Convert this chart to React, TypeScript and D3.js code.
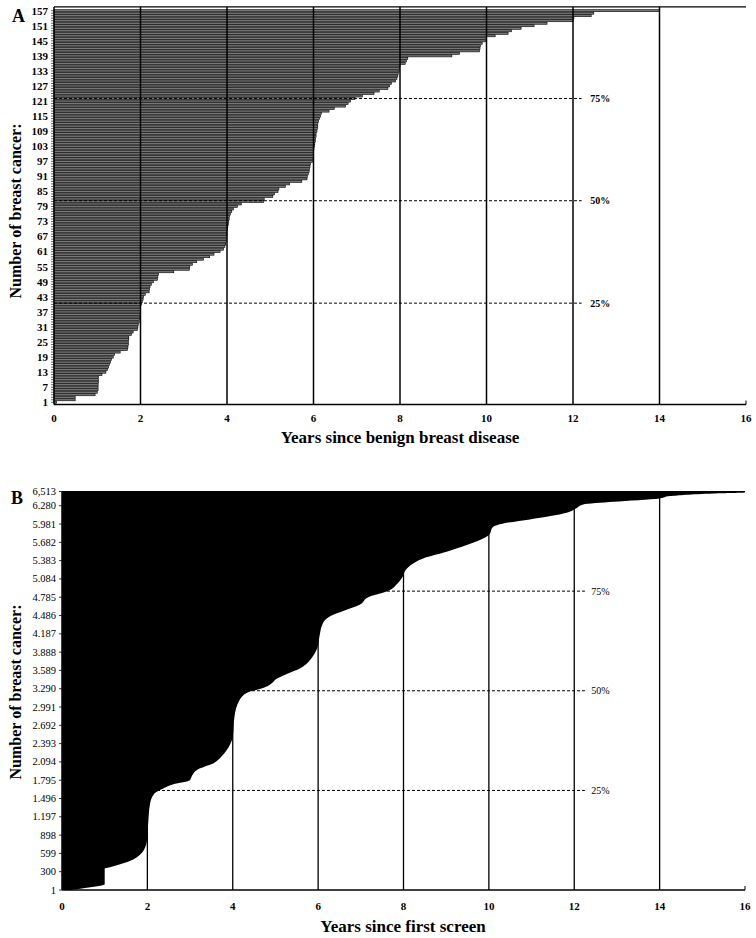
import React, { useEffect, useRef } from 'react';
import * as d3 from 'd3';

// panel A: years since benign disease, one bar per cancer (sorted)
const yearsA = [
  0.06, 0.49, 0.49, 0.95, 1.0, 1.02, 1.02, 1.02, 1.03, 1.03,
  1.03, 1.11, 1.2, 1.24, 1.26, 1.28, 1.31, 1.33, 1.37, 1.4,
  1.53, 1.7, 1.71, 1.72, 1.72, 1.73, 1.73, 1.79, 1.83, 1.93,
  1.94, 1.95, 1.97, 1.98, 1.99, 1.99, 2.0, 2.0, 2.0, 2.02,
  2.04, 2.06, 2.07, 2.11, 2.2, 2.21, 2.22, 2.25, 2.3, 2.39,
  2.4, 2.42, 2.77, 3.13, 3.14, 3.2, 3.3, 3.46, 3.6, 3.7,
  3.84, 3.92, 3.95, 3.97, 3.98, 3.99, 3.99, 4.0, 4.0, 4.01,
  4.02, 4.03, 4.04, 4.05, 4.06, 4.08, 4.11, 4.15, 4.24, 4.33,
  4.85, 4.86, 5.06, 5.1, 5.18, 5.2, 5.35, 5.45, 5.73, 5.85,
  5.86, 5.88, 5.9, 5.91, 5.92, 5.93, 5.98, 5.99, 6.0, 6.0,
  6.0, 6.01, 6.02, 6.03, 6.04, 6.05, 6.06, 6.06, 6.08, 6.09,
  6.1, 6.1, 6.12, 6.14, 6.16, 6.18, 6.36, 6.48, 6.74, 6.8,
  6.86, 6.96, 7.13, 7.4, 7.52, 7.72, 7.76, 7.8, 7.9, 7.93,
  7.95, 7.96, 7.98, 7.99, 8.0, 8.12, 8.15, 8.18, 9.2, 9.38,
  9.84, 9.85, 9.86, 9.9, 9.98, 10.0, 10.2, 10.5, 10.58, 10.8,
  11.1, 11.4, 12.0, 12.02, 12.42, 12.48, 14.0,
];
const quartileRowsA = [40.5, 81.3, 122];

// panel B: outline of the 6,513 sorted bars (count, years)
const countsB = [
  1, 30, 95, 350, 372, 430, 500, 572, 700, 800,
  1100, 1400, 1580, 1660, 1740, 1775, 1800, 1860, 1985, 2070,
  2178, 2369, 2505, 2832, 3105, 3240, 3285, 3322, 3460, 3650,
  3812, 3975, 4139, 4357, 4466, 4575, 4657, 4793, 4874, 5011,
  5120, 5230, 5300, 5419, 5528, 5637, 5719, 5801, 5936, 5991,
  6057, 6165, 6236, 6302, 6345, 6400, 6438, 6482, 6498, 6513,
];
const yearsB = [
  0.2, 0.5, 1.0, 1.0, 1.12, 1.4, 1.67, 1.82, 1.95, 1.99,
  2.02, 2.06, 2.17, 2.37, 2.68, 2.92, 3.0, 3.04, 3.22, 3.54,
  3.73, 3.93, 4.0, 4.04, 4.16, 4.39, 4.63, 4.78, 5.05, 5.64,
  5.87, 5.99, 6.03, 6.11, 6.26, 6.65, 6.96, 7.2, 7.59, 7.86,
  7.98, 8.05, 8.15, 8.46, 9.01, 9.48, 9.79, 10.0, 10.1, 10.34,
  10.96, 11.82, 12.04, 12.21, 12.92, 14.0, 14.25, 15.27, 16.0, 16.0,
];
const tickValuesB = [1, 300, 599, 898, 1197, 1496, 1795, 2094, 2393, 2692, 2991, 3290,
  3589, 3888, 4187, 4486, 4785, 5084, 5383, 5682, 5981, 6280, 6513];
const tickLabelsB = ['1', '300', '599', '898', '1.197', '1.496', '1.795', '2.094', '2.393',
  '2.692', '2.991', '3.290', '3.589', '3.888', '4.187', '4.486', '4.785', '5.084', '5.383',
  '5.682', '5.981', '6.280', '6,513'];
const quartileCountsB = [1628, 3257, 4885];
const quartileLabels = ['25%', '50%', '75%'];
const xTicks = [0, 2, 4, 6, 8, 10, 12, 14, 16];
const gridYears = [2, 4, 6, 8, 10, 12, 14];

const FONT = '"Liberation Serif", "Times New Roman", serif';

const App = () => {
  const ref = useRef(null);

  useEffect(() => {
    const svg = d3.select(ref.current);
    svg.selectAll('*').remove();

    // ---------- panel A ----------
    const xA = d3.scaleLinear().domain([0, 16]).range([54, 746]);
    const rowA = d3.scaleLinear().domain([1, yearsA.length]).range([402.3, 10.7]);
    const step = rowA(1) - rowA(2);
    const bottomA = 404.5;
    const topA = rowA(yearsA.length) - step * 1.5;
    const gA = svg.append('g');

    gA.selectAll('rect.bar')
      .data(yearsA)
      .join('rect')
      .attr('x', xA(0))
      .attr('y', (d, i) => rowA(i + 1) - step * 0.4)
      .attr('width', (d) => xA(d) - xA(0))
      .attr('height', step * 0.8)
      .attr('fill', '#777')
      .attr('stroke', '#000')
      .attr('stroke-width', 0.6);

    gA.selectAll('line.grid')
      .data(gridYears)
      .join('line')
      .attr('x1', (d) => xA(d)).attr('x2', (d) => xA(d))
      .attr('y1', bottomA).attr('y2', topA)
      .attr('stroke', '#000').attr('stroke-width', 1.5);

    gA.append('line')
      .attr('x1', xA(0)).attr('x2', xA(16))
      .attr('y1', topA).attr('y2', topA)
      .attr('stroke', '#000').attr('stroke-width', 1.2);

    quartileRowsA.forEach((r, i) => {
      gA.append('line')
        .attr('x1', xA(0)).attr('x2', xA(12.2))
        .attr('y1', rowA(r)).attr('y2', rowA(r))
        .attr('stroke', '#000').attr('stroke-width', 1)
        .attr('stroke-dasharray', '3,2');
      gA.append('text')
        .attr('x', xA(12.4)).attr('y', rowA(r) + 3.5)
        .attr('font-family', FONT).attr('font-size', 10).attr('font-weight', 'bold')
        .text(quartileLabels[i]);
    });

    // axes A
    gA.append('line')
      .attr('x1', xA(0)).attr('x2', xA(16)).attr('y1', bottomA).attr('y2', bottomA)
      .attr('stroke', '#000').attr('stroke-width', 1.5);
    gA.append('line')
      .attr('x1', xA(0)).attr('x2', xA(0)).attr('y1', bottomA).attr('y2', topA)
      .attr('stroke', '#000').attr('stroke-width', 1.5);
    gA.append('line')
      .attr('x1', xA(16)).attr('x2', xA(16)).attr('y1', bottomA).attr('y2', bottomA - 4)
      .attr('stroke', '#000').attr('stroke-width', 1);
    gA.selectAll('line.minor')
      .data(d3.range(1, yearsA.length + 1))
      .join('line')
      .attr('x1', xA(0) - 3).attr('x2', xA(0))
      .attr('y1', (d) => rowA(d)).attr('y2', (d) => rowA(d))
      .attr('stroke', '#000').attr('stroke-width', 0.6);
    gA.selectAll('text.ylab')
      .data(d3.range(1, yearsA.length + 1, 6))
      .join('text')
      .attr('x', xA(0) - 6).attr('y', (d) => rowA(d) + 3.8)
      .attr('text-anchor', 'end')
      .attr('font-family', FONT).attr('font-size', 11).attr('font-weight', 'bold')
      .text((d) => d);
    gA.selectAll('text.xlab')
      .data(xTicks)
      .join('text')
      .attr('x', (d) => xA(d)).attr('y', 422)
      .attr('text-anchor', 'middle')
      .attr('font-family', FONT).attr('font-size', 11).attr('font-weight', 'bold')
      .text((d) => d);
    gA.append('text')
      .attr('x', 400).attr('y', 443)
      .attr('text-anchor', 'middle')
      .attr('font-family', FONT).attr('font-size', 17).attr('font-weight', 'bold')
      .text('Years since benign breast disease');
    gA.append('text')
      .attr('transform', 'translate(21,211) rotate(-90)')
      .attr('text-anchor', 'middle')
      .attr('font-family', FONT).attr('font-size', 16).attr('font-weight', 'bold')
      .text('Number of breast cancer:');
    gA.append('text')
      .attr('x', 12).attr('y', 22)
      .attr('font-family', FONT).attr('font-size', 18).attr('font-weight', 'bold')
      .text('A');

    // ---------- panel B ----------
    const xB = d3.scaleLinear().domain([0, 16]).range([62, 745]);
    const yB = d3.scaleLinear().domain([1, 6513]).range([890, 491.5]);
    const gB = svg.append('g');

    gB.selectAll('line.grid')
      .data(gridYears)
      .join('line')
      .attr('x1', (d) => xB(d)).attr('x2', (d) => xB(d))
      .attr('y1', yB(1)).attr('y2', yB(6513))
      .attr('stroke', '#000').attr('stroke-width', 1.3);

    quartileCountsB.forEach((c, i) => {
      gB.append('line')
        .attr('x1', xB(0)).attr('x2', xB(12.25))
        .attr('y1', yB(c)).attr('y2', yB(c))
        .attr('stroke', '#000').attr('stroke-width', 1)
        .attr('stroke-dasharray', '3,2');
      gB.append('text')
        .attr('x', xB(12.4)).attr('y', yB(c) + 3.5)
        .attr('font-family', FONT).attr('font-size', 10)
        .text(quartileLabels[i]);
    });

    const pts = countsB.map((c, i) => ({ c, yr: yearsB[i] }));
    const area = d3.area()
      .y((d) => yB(d.c))
      .x0(xB(0))
      .x1((d) => xB(d.yr))
      .curve(d3.curveMonotoneY);
    gB.append('path')
      .datum(pts)
      .attr('d', area)
      .attr('fill', '#000');

    gB.append('line')
      .attr('x1', xB(0)).attr('x2', xB(16)).attr('y1', yB(6513)).attr('y2', yB(6513))
      .attr('stroke', '#000').attr('stroke-width', 1.2);
    gB.append('line')
      .attr('x1', xB(0)).attr('x2', xB(16)).attr('y1', yB(1)).attr('y2', yB(1))
      .attr('stroke', '#000').attr('stroke-width', 1.5);
    gB.append('line')
      .attr('x1', xB(0)).attr('x2', xB(0)).attr('y1', yB(1)).attr('y2', yB(6513))
      .attr('stroke', '#000').attr('stroke-width', 1.5);
    gB.append('line')
      .attr('x1', xB(16)).attr('x2', xB(16)).attr('y1', yB(1)).attr('y2', yB(1) - 4)
      .attr('stroke', '#000').attr('stroke-width', 1);
    gB.selectAll('line.ytick')
      .data(tickValuesB)
      .join('line')
      .attr('x1', xB(0) - 3).attr('x2', xB(0))
      .attr('y1', (d) => yB(d)).attr('y2', (d) => yB(d))
      .attr('stroke', '#000').attr('stroke-width', 0.8);
    gB.selectAll('text.ylab')
      .data(tickValuesB)
      .join('text')
      .attr('x', xB(0) - 6).attr('y', (d) => yB(d) + 3.5)
      .attr('text-anchor', 'end')
      .attr('font-family', FONT).attr('font-size', 10.5)
      .text((d, i) => tickLabelsB[i]);
    gB.selectAll('text.xlab')
      .data(xTicks)
      .join('text')
      .attr('x', (d) => xB(d)).attr('y', 910)
      .attr('text-anchor', 'middle')
      .attr('font-family', FONT).attr('font-size', 11).attr('font-weight', 'bold')
      .text((d) => d);
    gB.append('text')
      .attr('x', 403).attr('y', 932)
      .attr('text-anchor', 'middle')
      .attr('font-family', FONT).attr('font-size', 17).attr('font-weight', 'bold')
      .text('Years since first screen');
    gB.append('text')
      .attr('transform', 'translate(21,692) rotate(-90)')
      .attr('text-anchor', 'middle')
      .attr('font-family', FONT).attr('font-size', 16).attr('font-weight', 'bold')
      .text('Number of breast cancer:');
    gB.append('text')
      .attr('x', 11).attr('y', 504)
      .attr('font-family', FONT).attr('font-size', 18).attr('font-weight', 'bold')
      .text('B');
  }, []);

  return (
    <svg
      ref={ref}
      width={756}
      height={938}
      style={{ position: 'absolute', left: 0, top: 0, background: '#fff' }}
    />
  );
};

export default App;
